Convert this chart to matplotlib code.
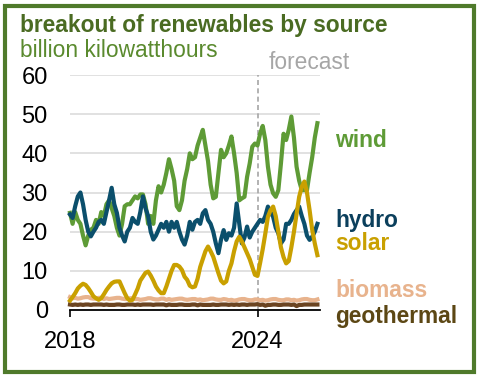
import matplotlib
matplotlib.use('Agg')
import matplotlib.pyplot as plt
import matplotlib.transforms as mtransforms
from matplotlib.patches import Rectangle
import numpy as np

plt.rcParams['font.family'] = ['Liberation Sans', 'DejaVu Sans']

# monthly values, Jan 2018 - Dec 2025, billion kWh
wind = [24.8, 22, 25, 23, 22, 19, 16.5, 19, 20.5, 21, 23, 22,
        25, 24, 27, 28, 26, 24, 21, 19, 22, 26.5, 27, 27,
        28, 29, 28.5, 29.5, 29.5, 27, 22, 24, 22, 28, 31.6, 30,
        32, 35, 38.5, 36, 33, 26.5, 25.5, 28, 33, 36, 40, 38.5,
        39, 42, 44, 46, 42, 38, 32, 28.5, 28.9, 35, 40.9, 39,
        40, 42, 44.3, 40, 35, 28, 28.5, 28.9, 34, 37.4, 41.7, 42.5,
        42, 45, 47, 43.4, 36.6, 32, 29.8, 28.9, 30.6, 37.4, 45, 43.4,
        46, 49.4, 44, 36.6, 33, 30.6, 30.6, 30.6, 35, 39, 44, 47.7]
hydro = [24.4, 23.5, 26.5, 29, 30, 27, 23, 20, 18.8, 20, 21, 22.5,
         23, 22, 25, 28, 31.2, 27, 24.8, 21, 19, 17.5, 20, 21,
         23.5, 22.5, 22, 25, 29, 26, 24, 20, 18, 19, 20.5, 22,
         21, 22.5, 20, 22.5, 21, 22.5, 20, 18, 16.7, 19, 22.5, 20.5,
         22.5, 23, 22, 24.7, 25.5, 23, 22, 20, 17, 14.5, 18, 20.4,
         17.9, 19.6, 19, 21, 27.2, 22, 17, 18.5, 21.3, 18.5, 20, 21,
         22, 23, 22.5, 24, 26.4, 25, 23.8, 21, 19.6, 17, 18, 22,
         22, 23, 24.5, 25.5, 26.4, 24, 22, 19, 17.9, 18.7, 20, 22]
solar = [2.4, 3.3, 4.3, 5.5, 6.2, 6.7, 6.4, 5.6, 4.6, 3.5, 3, 2.6,
         3, 4, 5.1, 6, 6.8, 7.2, 7.3, 7.3, 5.8, 4.3, 3, 2.4,
         2.6, 4, 5.5, 7.5, 8.5, 9.5, 9.8, 8.8, 7.5, 6, 5, 4.3,
         4.3, 6, 8, 10, 11.5, 11.5, 11.1, 10.2, 8.5, 7.7, 6.2, 5.8,
         6, 8, 11, 13, 15, 16.2, 15, 13.6, 11.5, 9.4, 7.5, 6.8,
         7.3, 10, 11.9, 15, 17.5, 18.7, 17.5, 16, 14.5, 13, 11, 9,
         8.7, 12, 15.5, 19.5, 23.8, 25.5, 26.4, 24, 20, 16, 13.5, 11.9,
         12.5, 16, 20, 24.5, 28.9, 31.5, 32.8, 30, 25.5, 20.5, 17, 14]
biomass = [3.3, 3.0, 3.1, 2.9, 3.0, 3.2, 3.3, 3.3, 3.0, 2.9, 2.9, 3.1,
           3.1, 2.8, 3.0, 2.8, 2.9, 3.0, 3.1, 3.1, 2.9, 2.8, 2.8, 3.0,
           3.0, 2.8, 2.8, 2.6, 2.7, 2.8, 3.0, 3.0, 2.8, 2.7, 2.7, 2.9,
           2.9, 2.6, 2.8, 2.6, 2.7, 2.8, 2.9, 2.9, 2.7, 2.6, 2.7, 2.8,
           2.8, 2.6, 2.7, 2.5, 2.6, 2.7, 2.9, 2.9, 2.7, 2.6, 2.6, 2.8,
           2.7, 2.5, 2.6, 2.4, 2.5, 2.7, 2.8, 2.8, 2.6, 2.5, 2.5, 2.7,
           2.7, 2.5, 2.6, 2.4, 2.5, 2.7, 2.8, 2.8, 2.6, 2.5, 2.5, 2.7,
           2.7, 2.5, 2.6, 2.4, 2.5, 2.7, 2.8, 2.8, 2.6, 2.5, 2.5, 2.7]
geothermal = [1.4, 1.3, 1.4, 1.3, 1.4, 1.3, 1.4, 1.4, 1.3, 1.4, 1.4, 1.4,
              1.4, 1.3, 1.4, 1.3, 1.3, 1.3, 1.4, 1.4, 1.3, 1.3, 1.4, 1.4,
              1.4, 1.3, 1.4, 1.3, 1.4, 1.4, 1.4, 1.4, 1.3, 1.4, 1.4, 1.4,
              1.4, 1.2, 1.4, 1.3, 1.3, 1.3, 1.4, 1.4, 1.3, 1.3, 1.3, 1.4,
              1.4, 1.2, 1.4, 1.3, 1.3, 1.3, 1.3, 1.4, 1.3, 1.3, 1.4, 1.4,
              1.4, 1.3, 1.4, 1.3, 1.4, 1.3, 1.4, 1.4, 1.3, 1.4, 1.4, 1.4,
              1.5, 1.3, 1.4, 1.1, 1.3, 1.3, 1.4, 1.4, 1.3, 1.3, 1.4, 1.4,
              1.4, 1.3, 1.4, 1.0, 1.3, 1.3, 1.4, 1.4, 1.4, 1.4, 1.4, 1.4]

start_year = 2018
forecast_year = 2024
xtick_years = [2018, 2024]
yticks = [0, 10, 20, 30, 40, 50, 60]

# series: (values, line colour, label, label colour, label y)
series = [
    (wind, '#5e9b36', 'wind', '#5e9b36', 41.6),
    (hydro, '#0b4f6c', 'hydro', '#0b3f5c', 21.3),
    (solar, '#c9a000', 'solar', '#c9a000', 15.3),
    (biomass, '#e8b38d', 'biomass', '#e8b38d', 3.3),
    (geothermal, '#6b4421', 'geothermal', '#5c4714', -3.3),
]

x = start_year + np.arange(len(wind)) / 12.0

fig = plt.figure(figsize=(4.8, 3.77), dpi=100)
ax = fig.add_axes([70 / 480, 1 - 310 / 377, 250 / 480, 235 / 377])

zorders = {'wind': 3, 'hydro': 4, 'solar': 5, 'biomass': 2, 'geothermal': 2.5}
for vals, c, name, lc, ly in series:
    ax.plot(x, vals, color=c, lw=3, solid_joinstyle='round', zorder=zorders[name], clip_on=False)

ax.set_xlim(start_year, start_year + 8)
ax.set_ylim(0, 60)
ax.set_yticks(yticks)
ax.set_xticks(xtick_years)
ax.set_xticklabels([str(y) for y in xtick_years])
ax.tick_params(axis='y', length=0, pad=16, labelsize=17)
ax.tick_params(axis='x', length=5, width=1.2, pad=10, labelsize=17, direction='out')
for s in ['top', 'right', 'left']:
    ax.spines[s].set_visible(False)
ax.spines['bottom'].set_linewidth(1.3)
ax.spines['bottom'].set_zorder(6)
for yv in yticks[1:]:
    ax.axhline(yv, color='#d9d9d9', lw=1.1, zorder=1)

ax.axvline(forecast_year, color='#a6a6a6', lw=1.2, ls=(0, (3, 2)), zorder=1.5)
ax.text(forecast_year + 0.35, 61.5, 'forecast', color='#a6a6a6', fontsize=16.4, ha='left', va='baseline')

trans = mtransforms.blended_transform_factory(ax.transAxes, ax.transData)
for vals, c, name, lc, ly in series:
    ax.text(1.06, ly, name, transform=trans, color=lc, fontsize=16.4, fontweight='bold',
            ha='left', va='baseline', clip_on=False)

fig.text(20 / 480, 1 - 31.7 / 377, 'breakout of renewables by source', color='#4a6b22',
         fontsize=16.4, fontweight='bold', ha='left', va='baseline')
fig.text(20 / 480, 1 - 56.7 / 377, 'billion kilowatthours', color='#5a8a2e',
         fontsize=16.4, ha='left', va='baseline')

fig.patches.append(Rectangle((5 / 480, 5 / 377), 469 / 480, 366 / 377, transform=fig.transFigure,
                             fill=False, edgecolor='#4f7a2b', lw=3))

fig.savefig('out.png', dpi=100)
